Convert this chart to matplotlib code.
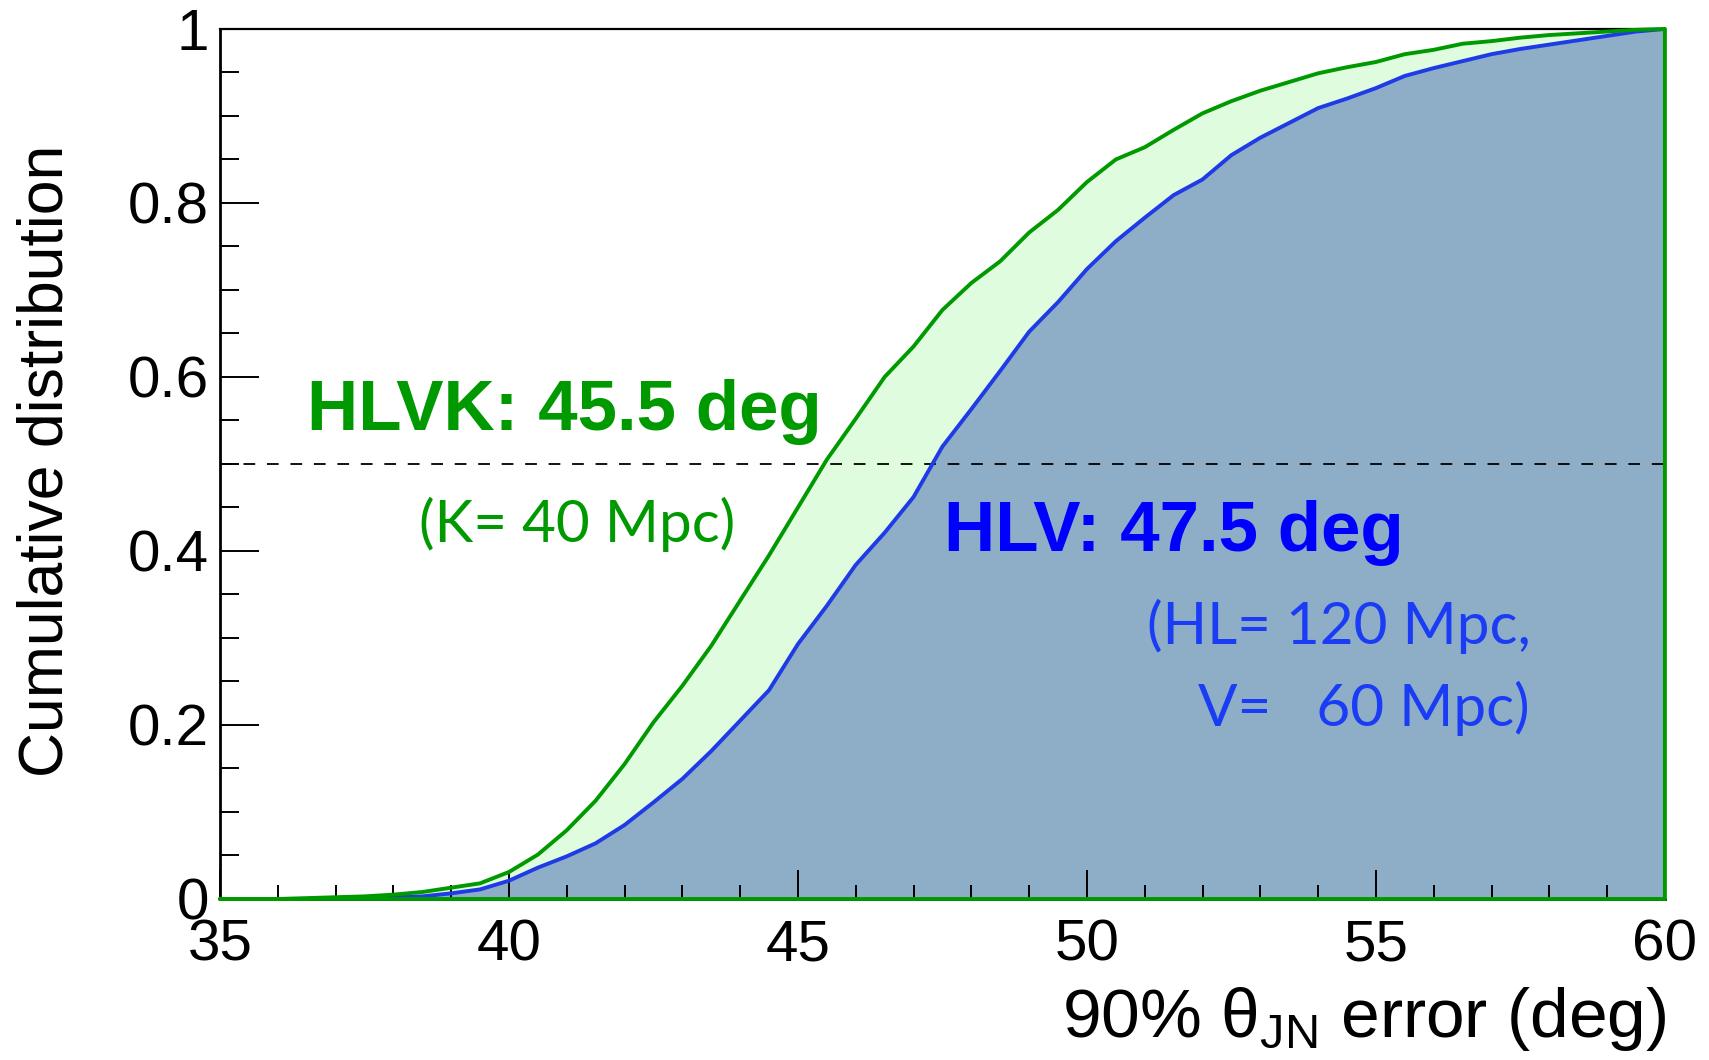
import numpy as np
import matplotlib
matplotlib.use("Agg")
import matplotlib.pyplot as plt
from matplotlib.ticker import MultipleLocator

plt.rcParams["font.family"] = ["Liberation Sans", "DejaVu Sans"]
plt.rcParams["mathtext.fontset"] = "custom"
plt.rcParams["mathtext.rm"] = "Liberation Sans"

# Cumulative distribution of the 90% theta_JN error
err_deg = [35.0, 35.5, 36.0, 36.5, 37.0, 37.5, 38.0, 38.5, 39.0, 39.5,
           40.0, 40.5, 41.0, 41.5, 42.0, 42.5, 43.0, 43.5, 44.0, 44.5,
           45.0, 45.5, 46.0, 46.5, 47.0, 47.5, 48.0, 48.5, 49.0, 49.5,
           50.0, 50.5, 51.0, 51.5, 52.0, 52.5, 53.0, 53.5, 54.0, 54.5,
           55.0, 55.5, 56.0, 56.5, 57.0, 57.5, 58.0, 58.5, 59.0, 59.5, 60.0]

hlvk_cdf = [0.0, 0.0, 0.0, 0.001, 0.002, 0.003, 0.005, 0.008, 0.013, 0.018,
            0.031, 0.051, 0.079, 0.113, 0.155, 0.203, 0.245, 0.291, 0.343, 0.395,
            0.450, 0.505, 0.552, 0.600, 0.635, 0.677, 0.708, 0.733, 0.766, 0.792,
            0.824, 0.850, 0.864, 0.884, 0.903, 0.917, 0.929, 0.939, 0.949, 0.956,
            0.962, 0.971, 0.976, 0.983, 0.986, 0.990, 0.993, 0.995, 0.997, 0.999, 1.0]

hlv_cdf = [0.0, 0.0, 0.0, 0.0, 0.001, 0.001, 0.002, 0.003, 0.0065, 0.011,
           0.021, 0.036, 0.049, 0.064, 0.085, 0.111, 0.138, 0.170, 0.205, 0.240,
           0.293, 0.337, 0.384, 0.421, 0.462, 0.520, 0.563, 0.607, 0.652, 0.686,
           0.724, 0.756, 0.783, 0.809, 0.827, 0.855, 0.875, 0.892, 0.909, 0.920,
           0.932, 0.946, 0.955, 0.963, 0.971, 0.977, 0.982, 0.987, 0.992, 0.997, 1.0]

x_ticks = [35, 40, 45, 50, 55, 60]
y_ticks = [0, 0.2, 0.4, 0.6, 0.8, 1.0]
y_tick_labels = ["0", "0.2", "0.4", "0.6", "0.8", "1"]

green = "#009900"
green_fill = "#dffcdf"
blue = "#1f3be6"
blue_fill = "#8eadc7"

fig = plt.figure(figsize=(17.09, 10.60), dpi=100)
ax = fig.add_axes([0.1287, 0.1519, 0.8455, 0.8208])

ax.fill_between(err_deg, hlvk_cdf, color=green_fill, lw=0, zorder=1)
ax.fill_between(err_deg, hlv_cdf, color=blue_fill, lw=0, zorder=1.5)
ax.axhline(0.5, color="black", lw=1.3, dashes=(6.5, 6.5), zorder=3)
ax.plot(err_deg, hlv_cdf, color=blue, lw=2.8, zorder=4)
# histogram outline of HLVK (curve + right edge + baseline)
ax.fill_between(err_deg, hlvk_cdf, facecolor="none", edgecolor=green,
                lw=2.8, zorder=5, clip_on=False)

ax.set_xlim(35, 60)
ax.set_ylim(0, 1)
ax.set_axisbelow(False)

ax.spines["right"].set_visible(False)
ax.spines["left"].set_linewidth(2.0)
ax.spines["top"].set_linewidth(1.6)
ax.spines["bottom"].set_linewidth(2.0)

ax.set_xticks(x_ticks)
ax.set_xticklabels([str(t) for t in x_ticks])
ax.set_yticks(y_ticks)
ax.set_yticklabels(y_tick_labels)
ax.xaxis.set_minor_locator(MultipleLocator(1))
ax.yaxis.set_minor_locator(MultipleLocator(0.05))
ax.tick_params(axis="x", which="major", direction="in", length=21, width=1.4,
               labelsize=42, pad=14)
ax.tick_params(axis="x", which="minor", direction="in", length=10, width=1.4)
ax.tick_params(axis="y", which="major", direction="in", length=28, width=1.4,
               labelsize=42, pad=8)
ax.tick_params(axis="y", which="minor", direction="in", length=14, width=1.4)

ax.text(36.51, 0.539, "HLVK: 45.5 deg", color=green, fontsize=51,
        fontweight="bold", ha="left", va="baseline", zorder=6)
ax.text(38.45, 0.410, "(K= 40 Mpc)", color=green, fontsize=42,
        family=["Lato", "DejaVu Sans"], ha="left", va="baseline", zorder=6)
ax.text(47.53, 0.400, "HLV: 47.5 deg", color="#0000ff", fontsize=51,
        fontweight="bold", ha="left", va="baseline", zorder=6)
ax.text(57.68, 0.293, "(HL= 120 Mpc,", color="#1a3cf5", fontsize=42,
        family=["Lato", "DejaVu Sans"], ha="right", va="baseline", zorder=6)
ax.text(57.66, 0.199, "V=   60 Mpc)", color="#1a3cf5", fontsize=42,
        family=["Lato", "DejaVu Sans"], ha="right", va="baseline", zorder=6)

fig.text(0.975, 0.0217, r"90% θ$_{\mathrm{JN}}$ error (deg)", fontsize=50,
         ha="right", va="baseline")
fig.text(0.027, 0.565, "Cumulative distribution", fontsize=45, rotation=90,
         ha="center", va="center")

fig.savefig("out.png", dpi=100)
